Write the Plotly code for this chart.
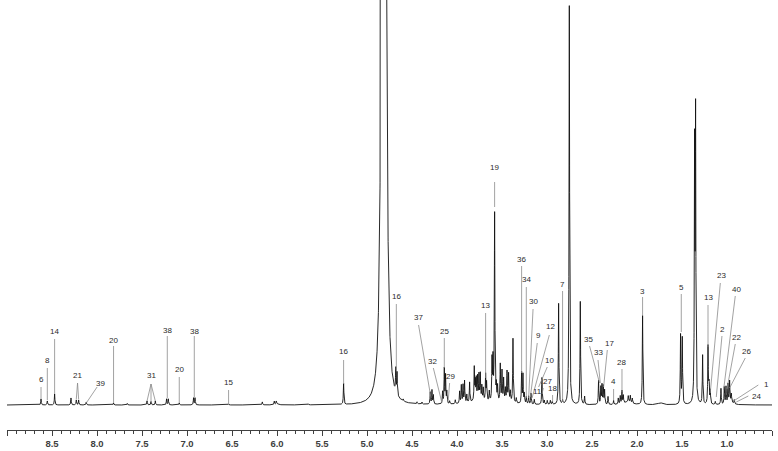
import numpy as np
import plotly.graph_objects as go

# ---------------- data ----------------
# sharp resonances: chemical shift (ppm) and intensity (arbitrary units)
peak_ppm = [8.622, 8.552, 8.471, 8.289, 8.230, 8.204, 8.119, 7.816, 7.663,
            7.444, 7.400, 7.352, 7.227, 7.208, 7.086, 6.927, 6.911, 6.538,
            6.163, 6.030, 6.008, 5.652, 5.260,
            4.680, 4.666, 4.597, 4.444, 4.389, 4.297, 4.278, 4.263,
            4.160, 4.141, 4.127, 4.113, 4.082, 4.019,
            3.971, 3.952, 3.933, 3.916, 3.891, 3.860, 3.808, 3.797, 3.786,
            3.771, 3.756, 3.741, 3.724, 3.708, 3.682, 3.671, 3.641, 3.611,
            3.600, 3.582, 3.563, 3.549, 3.519, 3.500, 3.482, 3.463, 3.444,
            3.427, 3.408, 3.378, 3.341, 3.282, 3.267, 3.252, 3.230, 3.204,
            3.178, 3.141, 3.056, 3.030, 2.997, 2.963, 2.941, 2.871, 2.827,
            2.752, 2.630, 2.582, 2.427, 2.402, 2.389, 2.374, 2.360, 2.322,
            2.260, 2.208, 2.186, 2.167, 2.152, 2.097, 2.074, 2.052, 1.938,
            1.516, 1.497, 1.360, 1.349, 1.271, 1.211, 1.200, 1.186, 1.130,
            1.067, 1.030, 1.011, 0.989, 0.971, 0.952, 0.919]
peak_height = [6, 4, 11, 7, 5, 5, 3, 2, 1.5,
               4, 3.5, 4, 6, 6, 2, 7, 7, 1.2,
               3, 3.5, 3, 1, 21,
               24, 22, 2, 2, 2, 12, 14, 9,
               12, 35, 28, 12, 3, 4,
               12, 18, 18, 22, 8, 20, 33, 18, 21,
               23, 25, 26, 14, 12, 26, 18, 10, 41,
               40, 188, 15, 15, 37, 30, 22, 12, 29,
               27, 10, 64, 5, 31, 29, 10, 7, 8,
               11, 5, 27, 4, 4, 4, 3, 101, 4,
               393, 103, 8, 24, 17, 19, 18, 14, 8,
               4, 6, 8, 13, 8, 6, 7, 5, 89,
               69, 66, 250, 283, 49, 57, 28, 13, 3,
               16, 17, 17, 19, 21, 8, 4]

# broad underlying components (ppm, intensity, half-width in ppm)
hump_ppm = [3.75, 3.45, 2.752, 2.10, 1.74, 0.96, 6.00]
hump_height = [4, 3, 6, 3, 2, 3, 1]
hump_width = [0.12, 0.08, 0.012, 0.05, 0.03, 0.03, 0.02]

# residual water signal
water_ppm = 4.813
water_height = 5000
water_width = 0.0123

# peak assignments: label, label position (ppm, intensity)
label_text = ["6", "8", "14", "21", "39", "20", "31", "38", "20", "38", "15",
              "16", "16", "37", "32", "25", "29", "13", "19", "36", "34",
              "30", "9", "12", "10", "11", "27", "18", "7", "35", "33", "17",
              "4", "28", "3", "5", "13", "23", "2", "40", "22", "26", "1", "24"]
label_ppm = [8.622, 8.552, 8.471, 8.216, 7.963, 7.816, 7.400, 7.219, 7.086,
             6.919, 6.538, 5.260, 4.674, 4.427, 4.271, 4.141, 4.067, 3.682,
             3.582, 3.282, 3.230, 3.149, 3.097, 2.963, 2.974, 3.111, 3.000,
             2.938, 2.827, 2.544, 2.433, 2.304, 2.260, 2.167, 1.938, 1.508,
             1.211, 1.056, 1.049, 0.897, 0.897, 0.778, 0.563, 0.667]
label_int = [26, 45, 74, 29.3, 22, 65, 29.3, 75, 35.3, 74, 22.3, 53.3, 108.3,
             87.3, 43.3, 74, 28.3, 99.3, 237.3, 146, 126, 104, 70, 78.3, 45,
             13.3, 23.3, 16.7, 120.7, 65.7, 52.3, 61.7, 23.3, 42.7, 114,
             117.7, 107.7, 129.3, 75.7, 116, 67.7, 54, 21, 8.3]

# leader lines: start (ppm, intensity) -> end (ppm, intensity)
leader_x0 = [8.622, 8.552, 8.471, 8.216, 8.216, 7.999, 7.816, 7.400, 7.400,
             7.400, 7.219, 7.086, 6.919, 6.538, 5.260, 4.674, 4.427, 4.263,
             4.141, 4.082, 3.682, 3.582, 3.282, 3.230, 3.155, 3.108, 2.974,
             2.997, 3.041, 2.938, 2.827, 2.527, 2.433, 2.330, 2.260, 2.167,
             1.938, 1.508, 1.211, 1.074, 1.056, 0.908, 0.908, 0.797, 0.652,
             0.763]
leader_y0 = [18, 37, 66, 22, 22, 18, 59, 21, 21, 21, 69, 28, 69, 15, 45, 101,
             80, 37, 67, 22, 92, 223, 139, 118, 96, 62, 70, 38, 17, 10, 114,
             59, 45, 55, 16, 36, 108, 111, 100, 122, 69, 109, 61, 47, 20, 9]
leader_x1 = [8.622, 8.552, 8.471, 8.230, 8.204, 8.119, 7.816, 7.444, 7.400,
             7.352, 7.219, 7.086, 6.919, 6.538, 5.260, 4.674, 4.289, 4.167,
             4.141, 4.097, 3.682, 3.582, 3.282, 3.230, 3.204, 3.185, 3.166,
             3.093, 3.056, 2.938, 2.827, 2.416, 2.408, 2.371, 2.260, 2.167,
             1.938, 1.508, 1.211, 1.186, 1.119, 1.038, 1.000, 0.971, 0.927,
             0.897]
leader_y1 = [6, 5, 11, 6, 6, 2, 2, 4, 4, 4, 7, 2, 8, 2, 21, 35, 7, 2, 37, 5,
             27, 198, 32, 7, 7, 8, 7, 18, 11, 3, 3, 22, 22, 18, 5, 13, 90, 73,
             58, 12, 8, 15, 16, 17, 4, 3]

# axis tick labels
tick_vals = [9.0, 8.5, 8.0, 7.5, 7.0, 6.5, 6.0, 5.5, 5.0, 4.5, 4.0, 3.5, 3.0,
             2.5, 2.0, 1.5, 1.0, 0.5]
tick_text = ["", "8.5", "8.0", "7.5", "7.0", "6.5", "6.0", "5.5", "5.0", "4.5",
             "4.0", "3.5", "3.0", "2.5", "2.0", "1.5", "1.0", ""]

# ---------------- build the spectrum ----------------
LW = 0.0035  # Lorentzian half-width (ppm) of sharp lines
grid = np.linspace(9.0, 0.5, 20001)
grid = np.union1d(grid, np.array(peak_ppm))[::-1]

spec = np.zeros_like(grid)
for p, h in zip(peak_ppm, peak_height):
    spec += h / (1.0 + ((grid - p) / LW) ** 2)
for p, h, w in zip(hump_ppm, hump_height, hump_width):
    spec += h / (1.0 + ((grid - p) / w) ** 2)
spec += water_height / (1.0 + np.abs((grid - water_ppm) / water_width) ** 2.5)

fig = go.Figure()
fig.add_trace(go.Scatter(x=grid, y=spec, mode="lines",
                         line=dict(color="#111111", width=0.9),
                         hoverinfo="skip", showlegend=False))

shapes = []
for x0, y0, x1, y1 in zip(leader_x0, leader_y0, leader_x1, leader_y1):
    shapes.append(dict(type="line", xref="x", yref="y", x0=x0, y0=y0,
                       x1=x1, y1=y1, line=dict(color="#8a8a8a", width=0.8)))

annotations = []
for t, x, y in zip(label_text, label_ppm, label_int):
    annotations.append(dict(text=t, x=x, y=y, xref="x", yref="y",
                            showarrow=False, xanchor="center", yanchor="middle",
                            font=dict(family="Liberation Sans, Arial", size=8,
                                      color="#2b2b2b")))
annotations.append(dict(text="<b>ppm</b>", x=0.63, y=-35, xref="x", yref="y",
                        showarrow=False, xanchor="center", yanchor="middle",
                        font=dict(family="Liberation Sans, Arial", size=9.5,
                                  color="#404040")))

fig.update_layout(
    width=778, height=451,
    margin=dict(l=7, r=6, t=0, b=21),
    paper_bgcolor="white", plot_bgcolor="white",
    shapes=shapes, annotations=annotations,
    showlegend=False,
    xaxis=dict(range=[9.0, 0.5], showgrid=False, zeroline=False,
               showline=True, linecolor="#404040", linewidth=1,
               ticks="outside", ticklen=5, tickcolor="#404040", tickwidth=1,
               tickvals=tick_vals, ticktext=tick_text,
               tickfont=dict(family="Liberation Sans, Arial", size=9.5,
                             color="#404040", weight="bold"),
               minor=dict(dtick=0.1, tick0=0, ticks="outside", ticklen=3,
                          tickcolor="#404040", tickwidth=1, showgrid=False)),
    yaxis=dict(range=[-25, 405], visible=False, showgrid=False,
               zeroline=False, fixedrange=True),
)

fig.write_html("out.html")
